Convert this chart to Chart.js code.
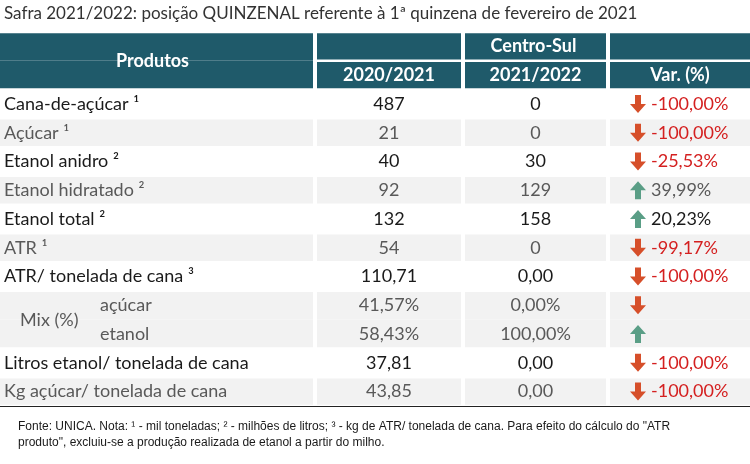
<!DOCTYPE html>
<html>
<head>
<meta charset="utf-8">
<script src="https://cdn.jsdelivr.net/npm/chart.js@4/dist/chart.umd.min.js"></script>
<style>
  body { margin: 0; background: #fff; }
  #wrap { width: 750px; height: 464px; }
</style>
</head>
<body>
<div id="wrap"><canvas id="chart"></canvas></div>
<script>
const rows = ['h1', 'h2', 'Cana-de-açúcar ¹', 'Açúcar ¹', 'Etanol anidro ²', 'Etanol hidratado ²', 'Etanol total ²',
    'ATR ¹', 'ATR/ tonelada de cana ³', 'açúcar', 'etanol', 'Litros etanol/ tonelada de cana', 'Kg açúcar/ tonelada de cana'];
const safra2020 = ['', '', '487', '21', '40', '92', '132', '54', '110,71', '41,57%', '58,43%', '37,81', '43,85'];
const safra2021 = ['', '', '0', '0', '30', '129', '158', '0', '0,00', '0,00%', '100,00%', '0,00', '0,00'];
const variacao = ['', '', '-100,00%', '-100,00%', '-25,53%', '39,99%', '20,23%', '-99,17%', '-100,00%', '', '', '-100,00%', '-100,00%'];
const trend = ['', '', 'down', 'down', 'down', 'up', 'up', 'down', 'down', 'down', 'up', 'down', 'down'];
const shaded = [0, 0, 0, 1, 0, 1, 0, 1, 0, 1, 1, 0, 1];

const cols = [[0, 313], [317, 461], [465, 606], [610, 750]];
const HEAD = '#1f5a6a', GRAY = '#f2f2f2';

function cellColor(ctx) {
    return ctx.dataIndex < 2 ? HEAD : (shaded[ctx.dataIndex] ? GRAY : '#fff');
}
function cellBorder(col) {
    return (ctx) => {
        const i = ctx.dataIndex;
        let top = 1.5, bottom = 1.5;
        if (i === 9) bottom = 0;
        if (i === 10) top = 0;
        if (col === 0 && i === 0) bottom = 0;
        if (col === 0 && i === 1) top = 0;
        return { top: top, bottom: bottom, left: 0, right: 0 };
    };
}

const datasets = cols.map((c, k) => ({
    data: rows.map(() => c),
    backgroundColor: cellColor,
    borderColor: '#fff',
    borderWidth: cellBorder(k),
    borderSkipped: false,
    barPercentage: 1,
    categoryPercentage: 1
}));

function arrow(ctx, x, y, dir) {
    ctx.save();
    ctx.fillStyle = dir === 'down' ? '#d64f2a' : '#5a9e86';
    ctx.translate(x, y);
    if (dir === 'up') ctx.scale(1, -1);
    ctx.beginPath();
    ctx.moveTo(-3, -9); ctx.lineTo(3, -9); ctx.lineTo(3, 0); ctx.lineTo(8, 0);
    ctx.lineTo(0, 9); ctx.lineTo(-8, 0); ctx.lineTo(-3, 0);
    ctx.closePath();
    ctx.fill();
    ctx.restore();
}

const tableText = {
    id: 'tableText',
    afterDatasetsDraw(chart) {
        const c = chart.ctx, x = chart.scales.x, y = chart.scales.y;
        const mid = (a) => (x.getPixelForValue(a[0]) + x.getPixelForValue(a[1])) / 2;
        c.save();
        c.textBaseline = 'middle';
        c.fillStyle = '#333';
        c.font = '17px Lato';
        c.textAlign = 'left';
        c.fillText('Safra 2021/2022: posição QUINZENAL referente à 1ª quinzena de fevereiro de 2021', 4, 14);

        c.fillStyle = '#fff';
        c.font = 'bold 18px Lato';
        c.textAlign = 'center';
        const y0 = y.getPixelForValue(0), y1 = y.getPixelForValue(1);
        c.fillText('Produtos', mid(cols[0]) - 4, (y0 + y1) / 2);
        c.fillText('Centro-Sul', (x.getPixelForValue(cols[1][0]) + x.getPixelForValue(cols[3][1])) / 2, y0);
        c.fillText('2020/2021', mid(cols[1]), y1);
        c.fillText('2021/2022', mid(cols[2]), y1);
        c.fillText('Var. (%)', mid(cols[3]), y1);

        c.font = '18px Lato';
        for (let i = 2; i < rows.length; i++) {
            const py = y.getPixelForValue(i);
            const ink = shaded[i] ? '#595959' : '#1a1a1a';
            c.fillStyle = ink;
            c.textAlign = 'left';
            if (i === 9 || i === 10) {
                c.fillText(rows[i], 100, py);
            } else {
                c.fillText(rows[i], 4, py);
            }
            c.textAlign = 'center';
            c.fillText(safra2020[i], mid(cols[1]), py);
            c.fillText(safra2021[i], mid(cols[2]), py);
            arrow(c, x.getPixelForValue(638), py, trend[i]);
            c.textAlign = 'left';
            c.fillStyle = variacao[i].startsWith('-') ? '#d42020' : ink;
            c.fillText(variacao[i], x.getPixelForValue(651), py);
        }
        c.fillStyle = '#595959';
        c.textAlign = 'left';
        c.fillText('Mix (%)', 20, (y.getPixelForValue(9) + y.getPixelForValue(10)) / 2);

        const bottom = chart.chartArea.bottom;
        c.strokeStyle = '#222';
        c.lineWidth = 1;
        c.beginPath(); c.moveTo(0, bottom + 0.5); c.lineTo(750, bottom + 0.5); c.stroke();

        c.fillStyle = '#1a1a1a';
        c.font = '12px "Liberation Sans"';
        c.fillText('Fonte: UNICA. Nota: ¹ - mil toneladas; ² - milhões de litros; ³ - kg de ATR/ tonelada de cana. Para efeito do cálculo do "ATR', 18, 427);
        c.fillText('produto", excluiu-se a produção realizada de etanol a partir do milho.', 18, 443);
        c.restore();
    }
};

new Chart(document.getElementById('chart'), {
    type: 'bar',
    data: { labels: rows, datasets: datasets },
    options: {
        indexAxis: 'y',
        responsive: true,
        maintainAspectRatio: false,
        animation: false,
        layout: { padding: { top: 32, bottom: 58, left: 0, right: 0 } },
        scales: {
            x: { type: 'linear', min: 0, max: 750, display: false },
            y: { display: false, stacked: true }
        },
        plugins: { legend: { display: false }, tooltip: { enabled: false } }
    },
    plugins: [tableText]
});
</script>
</body>
</html>
